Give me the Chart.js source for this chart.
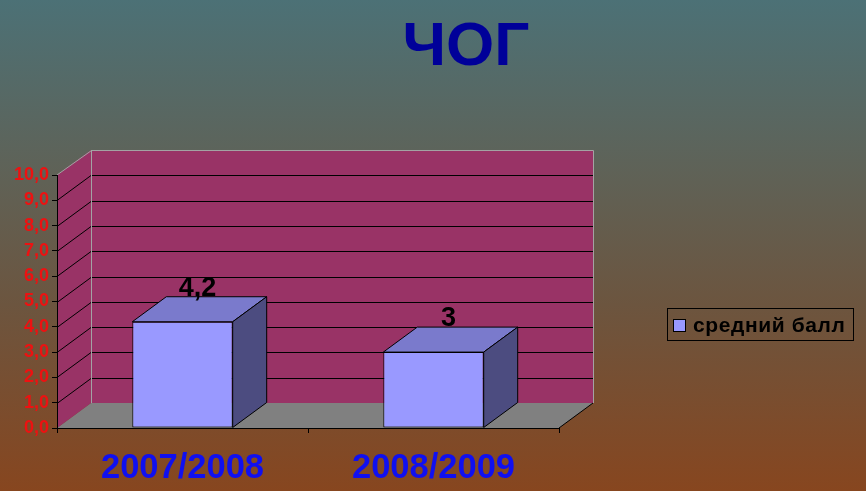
<!DOCTYPE html>
<html>
<head>
<meta charset="utf-8">
<script src="https://cdn.jsdelivr.net/npm/chart.js@4/dist/chart.umd.min.js"></script>
<style>
  html, body { margin: 0; padding: 0; background: #5f6257; }
  #wrap { width: 866px; height: 491px; }
</style>
</head>
<body>
<div id="wrap"><canvas id="c" width="866" height="491"></canvas></div>
<script>
// Data
const chartTitle = 'ЧОГ';
const seriesName = 'средний балл';
const categories = ['2007/2008', '2008/2009'];
const averageScores = [4.2, 3];
const yMin = 0;
const yMax = 10;
const yStep = 1;

// Look of the 3D box
const DEPTH_X = 34;
const DEPTH_Y = 25;
const WALL = '#993366';
const FLOOR = '#808080';
const WALL_EDGE = '#a3a3a3';
const BAR_FRONT = '#9999ff';
const BAR_TOP = '#7a7acc';
const BAR_SIDE = '#4c4c80';

const fmt = v => String(v).replace('.', ',');

function poly(ctx, pts, fill, stroke) {
  ctx.beginPath();
  ctx.moveTo(pts[0][0], pts[0][1]);
  for (let i = 1; i < pts.length; i++) ctx.lineTo(pts[i][0], pts[i][1]);
  ctx.closePath();
  if (fill) { ctx.fillStyle = fill; ctx.fill(); }
  if (stroke) { ctx.strokeStyle = stroke; ctx.lineWidth = 1; ctx.stroke(); }
}

// Background, title, walls and floor drawn beneath the axes
const scenePlugin = {
  id: 'scene',
  beforeDraw(chart) {
    const { ctx, width, height, chartArea: a, scales } = chart;
    const y = scales.y;
    ctx.save();
    const g = ctx.createLinearGradient(0, 0, 0, height);
    g.addColorStop(0, '#4c7176');
    g.addColorStop(0.35, '#5f6257');
    g.addColorStop(0.62, '#6c553f');
    g.addColorStop(1, '#87461f');
    ctx.fillStyle = g;
    ctx.fillRect(0, 0, width, height);

    // title
    ctx.fillStyle = '#000099';
    ctx.font = 'bold 62px "Liberation Sans", Arial, sans-serif';
    ctx.textAlign = 'center';
    ctx.textBaseline = 'alphabetic';
    ctx.fillText(chartTitle, 466, 65);

    const L = a.left, R = a.right;
    const T = y.getPixelForValue(yMax), B = y.getPixelForValue(yMin);

    // floor
    poly(ctx, [[L, B], [R, B], [R + DEPTH_X, B - DEPTH_Y], [L + DEPTH_X, B - DEPTH_Y]], FLOOR);
    // side wall
    poly(ctx, [[L, B], [L, T], [L + DEPTH_X, T - DEPTH_Y], [L + DEPTH_X, B - DEPTH_Y]], WALL);
    // back wall
    poly(ctx, [[L + DEPTH_X, T - DEPTH_Y], [R + DEPTH_X, T - DEPTH_Y], [R + DEPTH_X, B - DEPTH_Y], [L + DEPTH_X, B - DEPTH_Y]], WALL);

    // grid lines on side and back walls
    ctx.strokeStyle = '#000000';
    ctx.lineWidth = 1;
    for (let v = yMin + yStep; v < yMax; v += yStep) {
      const py = Math.round(y.getPixelForValue(v)) + 0.5;
      ctx.beginPath();
      ctx.moveTo(L, py);
      ctx.lineTo(L + DEPTH_X, py - DEPTH_Y);
      ctx.lineTo(R + DEPTH_X, py - DEPTH_Y);
      ctx.stroke();
    }

    // wall edges
    ctx.strokeStyle = WALL_EDGE;
    ctx.beginPath();
    ctx.moveTo(L, T);
    ctx.lineTo(L + DEPTH_X + 0.5, T - DEPTH_Y + 0.5);
    ctx.lineTo(R + DEPTH_X + 0.5, T - DEPTH_Y + 0.5);
    ctx.lineTo(R + DEPTH_X + 0.5, B - DEPTH_Y);
    ctx.moveTo(L + DEPTH_X + 0.5, T - DEPTH_Y);
    ctx.lineTo(L + DEPTH_X + 0.5, B - DEPTH_Y);
    ctx.stroke();

    // floor right edge
    ctx.strokeStyle = '#000000';
    ctx.beginPath();
    ctx.moveTo(R, B);
    ctx.lineTo(R + DEPTH_X, B - DEPTH_Y);
    ctx.stroke();
    ctx.restore();
  }
};

// Top and side faces of each bar, value labels and legend
const boxPlugin = {
  id: 'boxes',
  afterDatasetsDraw(chart) {
    const { ctx } = chart;
    const meta = chart.getDatasetMeta(0);
    const values = chart.data.datasets[0].data;
    ctx.save();
    meta.data.forEach((bar, i) => {
      const p = bar.getProps(['x', 'y', 'base', 'width'], true);
      const l = p.x - p.width / 2, r = p.x + p.width / 2;
      const t = p.y, b = p.base;
      poly(ctx, [[l, t], [l + DEPTH_X, t - DEPTH_Y], [r + DEPTH_X, t - DEPTH_Y], [r, t]], BAR_TOP, '#000000');
      poly(ctx, [[r, t], [r + DEPTH_X, t - DEPTH_Y], [r + DEPTH_X, b - DEPTH_Y], [r, b]], BAR_SIDE, '#000000');
      ctx.fillStyle = '#000000';
      ctx.font = 'bold 27px "Liberation Sans", Arial, sans-serif';
      ctx.textAlign = 'center';
      ctx.textBaseline = 'alphabetic';
      ctx.fillText(fmt(values[i]), p.x + DEPTH_X / 2 - 2, t - DEPTH_Y - 1);
    });

    // legend
    ctx.strokeStyle = '#000000';
    ctx.lineWidth = 1;
    ctx.strokeRect(667.5, 308.5, 186, 32);
    ctx.fillStyle = BAR_FRONT;
    ctx.fillRect(673.5, 319.5, 12, 12);
    ctx.strokeRect(673.5, 319.5, 12, 12);
    ctx.fillStyle = '#000000';
    ctx.font = 'bold 21px "Liberation Sans", Arial, sans-serif';
    ctx.textAlign = 'left';
    ctx.textBaseline = 'middle';
    if ('letterSpacing' in ctx) ctx.letterSpacing = '0.6px';
    ctx.fillText(chart.data.datasets[0].label, 693, 326);
    ctx.restore();
  }
};

new Chart(document.getElementById('c'), {
  type: 'bar',
  data: {
    labels: categories,
    datasets: [{
      label: seriesName,
      data: averageScores,
      backgroundColor: BAR_FRONT,
      borderColor: '#000000',
      borderWidth: 1,
      borderSkipped: false,
      barPercentage: 0.4,
      categoryPercentage: 1
    }]
  },
  options: {
    responsive: false,
    animation: false,
    events: [],
    layout: { padding: { left: 0, top: 175, right: 307, bottom: 0 } },
    plugins: {
      legend: { display: false },
      title: { display: false },
      tooltip: { enabled: false }
    },
    scales: {
      x: {
        offset: true,
        afterFit(s) { s.height = 63; },
        grid: { display: true, drawOnChartArea: false, drawTicks: true, tickLength: 5, offset: true, color: '#000000' },
        border: { display: true, color: '#000000', width: 1 },
        ticks: {
          color: '#1010f0',
          padding: 15,
          font: { family: '"Liberation Sans", Arial, sans-serif', size: 34.5, weight: 'bold' }
        }
      },
      y: {
        min: yMin,
        max: yMax,
        afterFit(s) { s.width = 57; },
        grid: { display: true, drawOnChartArea: false, drawTicks: true, tickLength: 5, color: '#000000' },
        border: { display: true, color: '#000000', width: 1 },
        ticks: {
          stepSize: yStep,
          color: '#ee1111',
          padding: 3,
          font: { family: '"Liberation Sans", Arial, sans-serif', size: 18, weight: 'bold' },
          callback: v => v.toFixed(1).replace('.', ',')
        }
      }
    }
  },
  plugins: [scenePlugin, boxPlugin]
});
</script>
</body>
</html>
